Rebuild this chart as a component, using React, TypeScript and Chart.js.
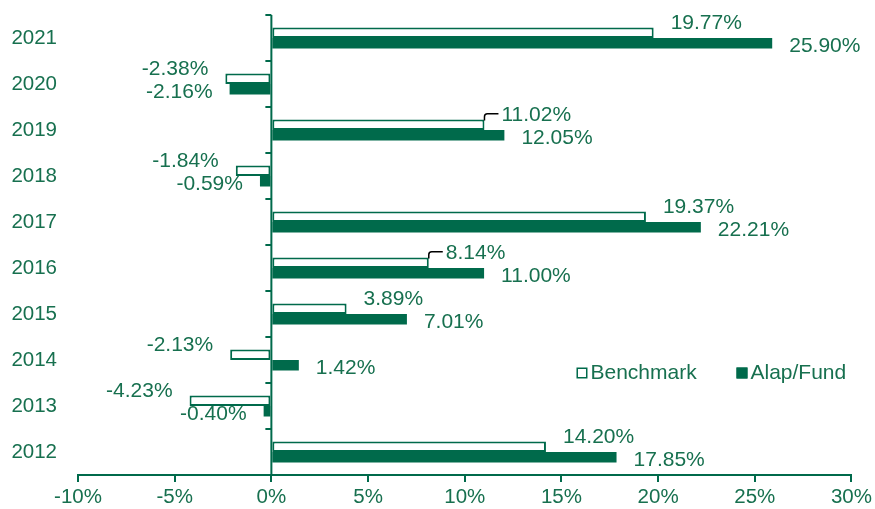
import React, { useEffect, useRef } from "react";
import { Chart, registerables } from "chart.js";

Chart.register(...registerables);

const years = ["2021", "2020", "2019", "2018", "2017", "2016", "2015", "2014", "2013", "2012"];
const benchmark = [19.77, -2.38, 11.02, -1.84, 19.37, 8.14, 3.89, -2.13, -4.23, 14.2];
const fund = [25.9, -2.16, 12.05, -0.59, 22.21, 11.0, 7.01, 1.42, -0.4, 17.85];
const seriesNames = ["Benchmark", "Alap/Fund"];
const leaderYears = ["2019", "2016"];
const xMin = -10;
const xMax = 30;
const xStep = 5;

const GREEN = "#006a4b";
const TEXT = "#17704f";
const FONT_FAMILY = '"Liberation Sans", Arial, sans-serif';

const labelPlugin = {
  id: "valueLabels",
  afterDatasetsDraw(chart: any) {
    const { ctx, chartArea, scales } = chart;
    ctx.save();
    // zero line with category ticks
    const x0 = scales.x.getPixelForValue(0);
    ctx.strokeStyle = GREEN;
    ctx.lineWidth = 2;
    ctx.beginPath();
    ctx.moveTo(x0, chartArea.top);
    ctx.lineTo(x0, chartArea.bottom + 1);
    ctx.stroke();
    const n = chart.data.labels.length;
    const band = (chartArea.bottom - chartArea.top) / n;
    for (let i = 0; i < n; i++) {
      const y = chartArea.top + i * band;
      ctx.beginPath();
      ctx.moveTo(x0 - 6, y);
      ctx.lineTo(x0, y);
      ctx.stroke();
    }

    ctx.font = `21px ${FONT_FAMILY}`;
    ctx.fillStyle = TEXT;
    ctx.textBaseline = "middle";
    chart.data.datasets.forEach((ds: any, di: number) => {
      const meta = chart.getDatasetMeta(di);
      meta.data.forEach((el: any, i: number) => {
        const v = ds.data[i];
        const pos = v >= 0;
        const dx = 17;
        const dy = di === 0 ? -10 : 3;
        const lx = el.x + (pos ? dx : -dx);
        const ly = el.y + dy;
        ctx.textAlign = pos ? "left" : "right";
        ctx.fillText(v.toFixed(2) + "%", lx, ly);
        if (di === 0 && leaderYears.includes(chart.data.labels[i])) {
          const top = el.y - el.height / 2;
          ctx.strokeStyle = "#000";
          ctx.lineWidth = 1.5;
          ctx.beginPath();
          ctx.moveTo(el.x, top + 1);
          ctx.lineTo(el.x, ly + 2);
          ctx.quadraticCurveTo(el.x, ly - 1, el.x + 3, ly - 1);
          ctx.lineTo(lx - 3, ly - 1);
          ctx.stroke();
        }
      });
    });

    // legend
    const ly = chartArea.bottom - 102;
    const items = [
      { x: chartArea.right - 275, ds: chart.data.datasets[0] },
      { x: chartArea.right - 115, ds: chart.data.datasets[1] },
    ];
    items.forEach((it) => {
      ctx.fillStyle = it.ds.backgroundColor;
      ctx.fillRect(it.x, ly - 5.5, 11, 11);
      ctx.strokeStyle = GREEN;
      ctx.lineWidth = 1.5;
      ctx.strokeRect(it.x + 0.75, ly - 4.75, 9.5, 9.5);
      ctx.fillStyle = TEXT;
      ctx.textAlign = "left";
      ctx.fillText(it.ds.label, it.x + 14, ly);
    });
    ctx.restore();
  },
};

export default function App() {
  const ref = useRef<HTMLCanvasElement>(null);
  useEffect(() => {
    if (!ref.current) return;
    const chart = new Chart(ref.current, {
      type: "bar",
      data: {
        labels: years,
        datasets: [
          {
            label: seriesNames[0],
            data: benchmark,
            backgroundColor: "#ffffff",
            borderColor: GREEN,
            borderWidth: 2,
            borderSkipped: false,
            categoryPercentage: 0.46,
            barPercentage: 1,
          },
          {
            label: seriesNames[1],
            data: fund,
            backgroundColor: GREEN,
            borderWidth: 0,
            categoryPercentage: 0.46,
            barPercentage: 1,
          },
        ],
      },
      options: {
        indexAxis: "y",
        animation: false,
        responsive: false,
        layout: { padding: { top: 15, left: 12, right: 22, bottom: 0 } },
        plugins: { legend: { display: false }, tooltip: { enabled: false } },
        scales: {
          x: {
            min: xMin,
            max: xMax,
            ticks: {
              stepSize: xStep,
              color: TEXT,
              font: { size: 20.5, family: FONT_FAMILY },
              padding: 3,
              callback: (v: any) => v + "%",
            },
            grid: { drawOnChartArea: false, color: GREEN, lineWidth: 2, tickLength: 7 },
            border: { color: GREEN, width: 2 },
            afterFit: (s: any) => {
              s.height = 34;
            },
          },
          y: {
            ticks: { color: TEXT, font: { size: 20.5, family: FONT_FAMILY }, padding: 0 },
            grid: { display: false, drawTicks: true, tickLength: 21 },
            border: { display: false },
            afterFit: (s: any) => {
              s.width = 66;
            },
          },
        },
      },
      plugins: [labelPlugin],
    } as any);
    return () => chart.destroy();
  }, []);
  return (
    <div style={{ position: "absolute", left: 0, top: 0, width: 875, height: 509, background: "#fff" }}>
      <canvas ref={ref} width={875} height={509} />
    </div>
  );
}
